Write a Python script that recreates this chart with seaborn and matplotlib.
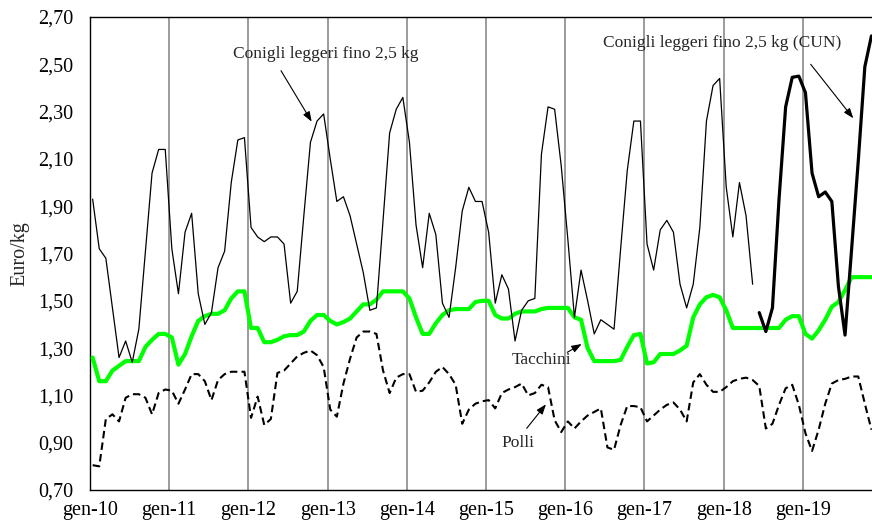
import numpy as np
import pandas as pd
import matplotlib
matplotlib.use("Agg")
import matplotlib.pyplot as plt
import seaborn as sns

# ---------------- data (Euro/kg, monthly from gen-10) ----------------
conigli = [1.93, 1.72, 1.68, 1.47, 1.26, 1.33, 1.24, 1.38, 1.71, 2.04, 2.14, 2.14,
           1.72, 1.53, 1.79, 1.87, 1.53, 1.40, 1.45, 1.64, 1.71, 2.00, 2.18, 2.19,
           1.81, 1.77, 1.75, 1.77, 1.77, 1.74, 1.49, 1.54, 1.86, 2.17, 2.26, 2.29,
           2.10, 1.92, 1.94, 1.86, 1.74, 1.62, 1.46, 1.47, 1.84, 2.21, 2.31, 2.36,
           2.17, 1.82, 1.64, 1.87, 1.78, 1.49, 1.43, 1.64, 1.88, 1.98, 1.92, 1.92,
           1.79, 1.49, 1.61, 1.55, 1.33, 1.46, 1.50, 1.51, 2.12, 2.32, 2.31, 2.07,
           1.76, 1.43, 1.63, 1.50, 1.36, 1.42, 1.40, 1.38, 1.72, 2.05, 2.26, 2.26,
           1.74, 1.63, 1.80, 1.84, 1.79, 1.57, 1.47, 1.57, 1.81, 2.26, 2.41, 2.44,
           1.98, 1.77, 2.00, 1.86, 1.57]
conigli_cun_start = 101
conigli_cun = [1.45, 1.37, 1.47, 1.93, 2.32, 2.445, 2.45, 2.38, 2.04, 1.94, 1.96,
               1.92, 1.56, 1.355, 1.72, 2.09, 2.49, 2.62]
tacchini = [1.26, 1.16, 1.16, 1.205, 1.225, 1.245, 1.245, 1.245, 1.305, 1.335, 1.36, 1.36,
            1.345, 1.23, 1.275, 1.35, 1.415, 1.435, 1.445, 1.445, 1.46, 1.51, 1.54, 1.54,
            1.385, 1.385, 1.325, 1.325, 1.335, 1.35, 1.355, 1.355, 1.37, 1.415, 1.44, 1.44,
            1.415, 1.40, 1.41, 1.425, 1.455, 1.485, 1.485, 1.505, 1.54, 1.54, 1.54, 1.54,
            1.51, 1.43, 1.36, 1.36, 1.405, 1.44, 1.46, 1.465, 1.465, 1.465, 1.495, 1.50,
            1.50, 1.44, 1.425, 1.425, 1.445, 1.455, 1.455, 1.455, 1.465, 1.47, 1.47, 1.47,
            1.47, 1.43, 1.42, 1.30, 1.245, 1.245, 1.245, 1.245, 1.25, 1.305, 1.355, 1.36,
            1.235, 1.24, 1.275, 1.275, 1.275, 1.29, 1.31, 1.43, 1.485, 1.515, 1.525, 1.515,
            1.46, 1.385, 1.385, 1.385, 1.385, 1.385, 1.385, 1.385, 1.385, 1.42, 1.435, 1.435,
            1.36, 1.34, 1.375, 1.42, 1.475, 1.495, 1.545, 1.60, 1.60, 1.60, 1.60]
polli = [0.805, 0.80, 1.00, 1.02, 0.99, 1.09, 1.105, 1.105, 1.09, 1.02, 1.11, 1.125,
         1.12, 1.065, 1.125, 1.19, 1.19, 1.16, 1.08, 1.165, 1.19, 1.20, 1.20, 1.20,
         1.005, 1.095, 0.975, 1.00, 1.195, 1.205, 1.235, 1.265, 1.28, 1.29, 1.27, 1.22,
         1.04, 1.01, 1.15, 1.255, 1.345, 1.37, 1.37, 1.36, 1.205, 1.11, 1.175, 1.19,
         1.19, 1.115, 1.12, 1.155, 1.20, 1.22, 1.19, 1.145, 0.98, 1.04, 1.065, 1.075,
         1.08, 1.045, 1.11, 1.125, 1.135, 1.15, 1.10, 1.11, 1.145, 1.135, 0.995, 0.945,
         0.99, 0.96, 0.99, 1.015, 1.03, 1.045, 0.88, 0.87, 0.975, 1.055, 1.055, 1.05,
         0.99, 1.015, 1.04, 1.06, 1.07, 1.04, 0.99, 1.155, 1.19, 1.145, 1.115, 1.115,
         1.135, 1.16, 1.17, 1.175, 1.165, 1.14, 0.96, 0.98, 1.06, 1.13, 1.145, 1.06,
         0.94, 0.865, 0.955, 1.065, 1.15, 1.165, 1.17, 1.18, 1.18, 1.065, 0.955]
x_labels = ["gen-10", "gen-11", "gen-12", "gen-13", "gen-14", "gen-15",
            "gen-16", "gen-17", "gen-18", "gen-19"]
y_ticks = [0.70, 0.90, 1.10, 1.30, 1.50, 1.70, 1.90, 2.10, 2.30, 2.50, 2.70]

# ---------------- styling ----------------
sns.set_style("white")
plt.rcParams["font.family"] = ["Liberation Serif", "DejaVu Serif"]

fig = plt.figure(figsize=(8.72, 5.23), dpi=100)
ax = fig.add_axes([90 / 872, 33 / 523, 782 / 872, 473 / 523])

off = 0.4  # points sit slightly after the month boundary
x_con = np.arange(len(conigli)) + off
x_cun = np.arange(conigli_cun_start, conigli_cun_start + len(conigli_cun)) + off
x_all = np.arange(len(tacchini)) + off

sns.lineplot(x=x_all, y=polli, ax=ax, color="black", linewidth=1.5,
             linestyle=(0, (3.6, 2.0)), zorder=3)
sns.lineplot(x=x_all, y=tacchini, ax=ax, color="#00ff00", linewidth=3.0, zorder=4)
sns.lineplot(x=x_con, y=conigli, ax=ax, color="black", linewidth=0.9, zorder=5)
sns.lineplot(x=x_cun, y=conigli_cun, ax=ax, color="black", linewidth=2.3, zorder=5)

ax.set_xlim(0, 782 / 6.6)
ax.set_ylim(0.70, 2.70)
ax.set_xticks(np.arange(len(x_labels)) * 12)
ax.set_xticklabels(x_labels)
ax.set_yticks(y_ticks)
ax.set_yticklabels([f"{v:.2f}".replace(".", ",") for v in y_ticks])
ax.tick_params(axis="both", direction="out", length=4, width=1, color="black",
               labelsize=14.5, labelcolor="black")
ax.tick_params(axis="y", pad=8)
ax.tick_params(axis="x", pad=4)
ax.set_ylabel("Euro/kg", fontsize=14.5, labelpad=6)
ax.grid(False)
for xv in np.arange(1, len(x_labels)) * 12:
    ax.axvline(xv, color="#808080", linewidth=1.1, zorder=1)

for side in ["left", "bottom", "top"]:
    ax.spines[side].set_visible(True)
    ax.spines[side].set_color("black")
    ax.spines[side].set_linewidth(1.0)
ax.spines["right"].set_visible(False)


def px(xp, yp):
    return (xp - 90) / 6.6, 0.70 + (490 - yp) / 236.5


arrow = dict(arrowstyle="-|>,head_length=0.6,head_width=0.22", color="black",
             linewidth=0.8, shrinkA=0, shrinkB=0)
fs = 12.5
ax.text(*px(326, 54), "Conigli leggeri fino 2,5 kg", ha="center", va="center", fontsize=fs)
ax.annotate("", xy=px(311.7, 121.7), xytext=px(281, 70.7), arrowprops=arrow)
ax.text(*px(722, 43), "Conigli leggeri fino 2,5 kg (CUN)", ha="center", va="center", fontsize=fs)
ax.annotate("", xy=px(853.3, 118.3), xytext=px(810.7, 64.3), arrowprops=arrow)
ax.text(*px(541.7, 360), "Tacchini", ha="center", va="center", fontsize=fs)
ax.annotate("", xy=px(581.7, 344), xytext=px(567.3, 352.3), arrowprops=arrow)
ax.text(*px(517.5, 443), "Polli", ha="center", va="center", fontsize=fs)
ax.annotate("", xy=px(546, 404.3), xytext=px(526.7, 428.3), arrowprops=arrow)

fig.savefig("out.png", dpi=100)
